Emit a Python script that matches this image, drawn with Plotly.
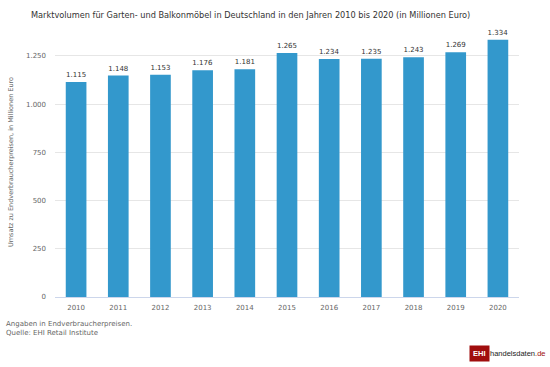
import plotly.graph_objects as go

years = ["2010", "2011", "2012", "2013", "2014", "2015", "2016", "2017", "2018", "2019", "2020"]
values = [1115, 1148, 1153, 1176, 1181, 1265, 1234, 1235, 1243, 1269, 1334]
y_ticks = [0, 250, 500, 750, 1000, 1250]

title_text = "Marktvolumen für Garten- und Balkonmöbel in Deutschland in den Jahren 2010 bis 2020 (in Millionen Euro)"
y_title = "Umsatz zu Endverbraucherpreisen, in Millionen Euro"
note_text = "Angaben in Endverbraucherpreisen.<br>Quelle: EHI Retail Institute"

FONT = "DejaVu Sans"
PW, PH = 464, 270  # plot area in px

fig = go.Figure(
    go.Bar(
        x=years,
        y=values,
        width=0.49,
        marker=dict(color="#3398cc", line=dict(width=0)),
        text=[f"{v:,}".replace(",", ".") for v in values],
        textposition="outside",
        textfont=dict(family=FONT, size=7, color="#333333"),
        cliponaxis=False,
        hoverinfo="skip",
    )
)

fig.update_layout(
    width=550,
    height=367,
    margin=dict(l=55, r=31, t=27, b=70, pad=0, autoexpand=False),
    paper_bgcolor="white",
    plot_bgcolor="white",
    separators=",.",
    showlegend=False,
    font=dict(family=FONT, size=7, color="#666666"),
    title=dict(
        text=title_text,
        x=31 / 550,
        xanchor="left",
        y=1 - 15 / 367,
        yanchor="middle",
        font=dict(family=FONT, size=8.2, color="#333333"),
    ),
)

fig.update_xaxes(
    type="category",
    range=[-0.5, 10.5],
    automargin=False,
    showgrid=False,
    showline=True,
    linecolor="#ccd6eb",
    linewidth=1,
    ticks="",
    tickfont=dict(family=FONT, size=7, color="#666666"),
    ticklabelstandoff=4,
)

fig.update_yaxes(
    range=[0, 1400],
    automargin=False,
    tickvals=y_ticks,
    tickformat=",d",
    showgrid=True,
    gridcolor="#e6e6e6",
    gridwidth=1,
    zeroline=False,
    showline=False,
    tickfont=dict(family=FONT, size=7, color="#666666"),
    ticklabelstandoff=8,
    title=dict(text=y_title, font=dict(family=FONT, size=6.5, color="#666666"), standoff=11),
)

fig.add_annotation(
    text=note_text,
    xref="paper", yref="paper",
    x=-51 / PW, y=-(323 - 297 - 5) / PH,
    xanchor="left", yanchor="top",
    align="left",
    showarrow=False,
    font=dict(family=FONT, size=7, color="#666666"),
)

# Logo
fig.add_annotation(
    text="<b>EHI</b>",
    xref="paper", yref="paper",
    x=(479 - 55) / PW, y=-(353 - 297) / PH,
    xanchor="center", yanchor="middle",
    showarrow=False,
    bgcolor="#a00d0d",
    borderpad=3,
    font=dict(family="Liberation Sans", size=7.5, color="white"),
)
fig.add_annotation(
    text="handelsdaten<span style='color:#a00d0d'>.de</span>",
    xref="paper", yref="paper",
    x=(488 - 55) / PW, y=-(353 - 297) / PH,
    xanchor="left", yanchor="middle",
    showarrow=False,
    font=dict(family="Liberation Sans", size=7.5, color="#222222"),
)

fig.write_html(
    "out.html",
    config={"displayModeBar": False},
    post_script="document.body.style.margin='0';document.body.style.padding='0';",
)
